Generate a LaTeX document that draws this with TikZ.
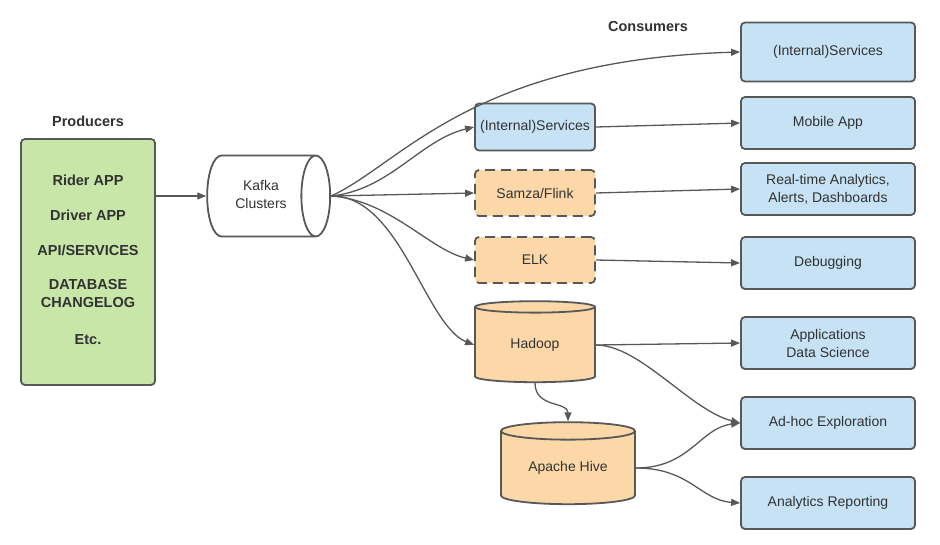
\documentclass[tikz,border=0pt]{standalone}
\usepackage{fontspec}
\setmainfont{Liberation Sans}
\usetikzlibrary{arrows.meta,shapes.geometric}
\definecolor{edgegray}{RGB}{88,88,88}
\definecolor{txtgray}{RGB}{50,50,50}
\definecolor{prodgreen}{RGB}{199,230,168}
\definecolor{consblue}{RGB}{198,226,244}
\definecolor{procorange}{RGB}{252,216,168}
\tikzset{
  box/.style={draw=edgegray,line width=1.8pt,rounded corners=4pt,align=center,text=txtgray,font=\fontsize{14}{18}\selectfont,inner sep=0pt},
  consumer/.style={box,fill=consblue,minimum width=174pt,minimum height=52pt},
  stream/.style={box,fill=procorange,dash pattern=on 10pt off 6pt,minimum width=120pt,minimum height=46pt},
  db/.style={cylinder,draw=edgegray,line width=1.8pt,text=txtgray,font=\fontsize{14}{18}\selectfont,inner sep=0pt},
  title/.style={font=\fontsize{14.5}{18}\selectfont\bfseries,text=txtgray},
  link/.style={draw=edgegray,line width=1.3pt,-{Triangle[length=9pt,width=7pt]}},
}
\begin{document}
\begin{tikzpicture}[x=1pt,y=-1pt]
            \useasboundingbox (0,0) rectangle (940,544);
            % producers
            \node[title] (prodtitle) at (88,121) {Producers};
            \node[box,fill=prodgreen,minimum width=134pt,minimum height=246pt] (prod) at (88,262) {};
            \node[title] (rider) at (88,180) {Rider APP};
            \node[title] (driver) at (88,215) {Driver APP};
            \node[title] (api) at (88,250) {API/SERVICES};
            \node[title,align=center] (dbcl) at (88,294) {DATABASE\\CHANGELOG};
            \node[title] (etc) at (88,340) {Etc.};
            \node[db,fill=white,aspect=0.8,minimum width=81pt,minimum height=123pt] (kafka) at (261,196)
                {\begin{tabular}{@{}c@{}}Kafka\\Clusters\end{tabular}};
            % consumers
            \node[title] (constitle) at (648,27) {Consumers};
            \node[box,fill=consblue,minimum width=120pt,minimum height=47pt] (intsvc) at (535,127) {(Internal)Services};
            \node[stream] (samza) at (535,193) {Samza/Flink};
            \node[stream] (elk) at (535,260) {ELK};
            \node[db,fill=procorange,shape border rotate=90,aspect=0.233,minimum width=120pt,minimum height=81pt] (hadoop) at (535,345) {Hadoop};
            \node[db,fill=procorange,shape border rotate=90,aspect=0.22,minimum width=134pt,minimum height=82pt] (hive) at (568,468) {Apache Hive};
            \node[consumer,minimum height=59pt] (extsvc) at (828,52) {(Internal)Services};
            \node[consumer] (mobile) at (828,123) {Mobile App};
            \node[consumer] (realtime) at (828,189) {Real-time Analytics,\\Alerts, Dashboards};
            \node[consumer] (debug) at (828,263) {Debugging};
            \node[consumer] (appsci) at (828,343) {Applications\\Data Science};
            \node[consumer] (adhoc) at (828,423) {Ad-hoc Exploration};
            \node[consumer] (report) at (828,503) {Analytics Reporting};
            % connectors
            \draw[link] (prod.east |- kafka.west) -- (kafka.west);
            \draw[link] (kafka.east) .. controls (400,165) and (470,60) .. (extsvc.west);
            \draw[link] (kafka.east) .. controls (390,190) and (420,140) .. (intsvc.west);
            \draw[link] (kafka.east) -- (samza.west);
            \draw[link] (kafka.east) .. controls (390,200) and (430,250) .. (elk.west);
            \draw[link] (kafka.east) .. controls (400,195) and (425,325) .. (hadoop.west);
            \draw[link] (intsvc.east) -- (mobile.west);
            \draw[link] (samza.east) -- (realtime.west);
            \draw[link] (elk.east) -- (debug.west);
            \draw[link] (hadoop.east) -- (appsci.west);
            \draw[link] (hadoop.east) .. controls (640,345) and (690,410) .. (adhoc.west);
            \draw[link] (hadoop.south) .. controls +(0,25) and +(0,-20) .. (hive.north);
            \draw[link] (hive.east) .. controls (690,468) and (700,428) .. (adhoc.west);
            \draw[link] (hive.east) .. controls (690,468) and (700,500) .. (report.west);
        \end{tikzpicture}
\end{document}
